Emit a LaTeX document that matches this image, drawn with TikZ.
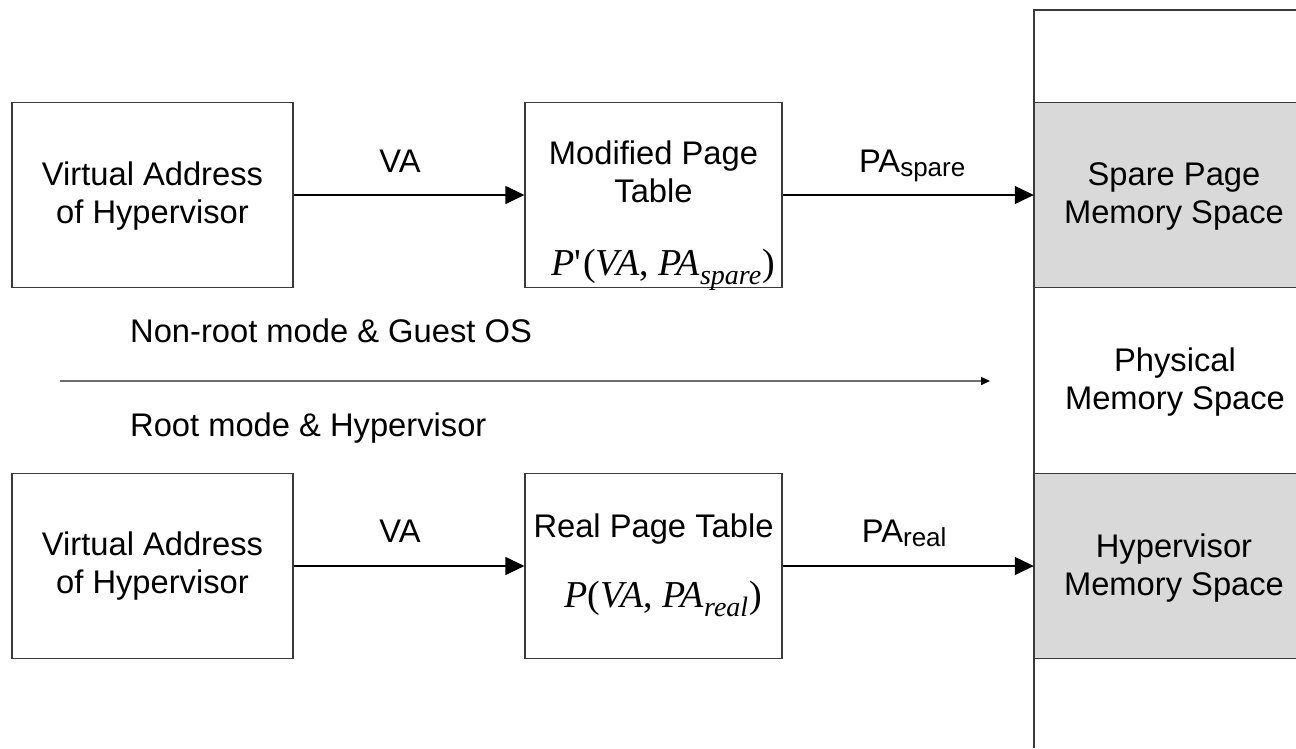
\documentclass[tikz,border=0pt]{standalone}
\usepackage{fontspec}
\setmainfont{Liberation Sans}
\newfontfamily\tms{Liberation Serif}
\usetikzlibrary{arrows.meta}
\definecolor{boxline}{HTML}{3A3A3A}
\definecolor{shade}{HTML}{D9D9D9}
\definecolor{axis}{HTML}{6E6E6E}
\newcommand{\lbl}{\fontsize{32.7}{38}\selectfont}
\newcommand{\frm}{\tms\fontsize{38}{40}\selectfont}
\newcommand{\sub}[1]{\raisebox{-0.26em}{\fontsize{28}{28}\selectfont\itshape #1}}
\newcommand{\lsub}[1]{\raisebox{-0.15em}{\fontsize{26}{26}\selectfont #1}}
\begin{document}
\begin{tikzpicture}[x=1pt,y=-1pt,
  blk/.style={draw=boxline,line width=1.2pt,minimum width=281pt,minimum height=185pt,inner sep=0pt},
  tbl/.style={draw=boxline,line width=1.2pt,minimum width=257pt,minimum height=185pt,inner sep=0pt},
  mem/.style={fill=shade,minimum width=262pt,minimum height=185pt,inner sep=0pt},
  txt/.style={inner sep=0pt,align=center,font=\lbl},
  arrlbl/.style={inner sep=0pt,anchor=base,font=\lbl},
  flow/.style={line width=1.2pt,-{Triangle[length=19pt,width=18pt]}},
  modeline/.style={draw=axis,line width=1.5pt,-{Triangle[length=9pt,width=8pt,fill=black,color=black]}}]
\useasboundingbox (0,0) rectangle (1296,748);

% physical memory column
\node[mem] (spare) at (1165,195) {};
\node[mem] (hyp) at (1165,566) {};
\node[txt] (sparetxt) at (1174,196) {Spare Page\\Memory Space};
\node[txt] (hyptxt) at (1174,568) {Hypervisor\\Memory Space};
\draw[boxline,line width=1.2pt] (1296,10) -- (1034,10) -- (1034,748);
\draw[boxline,line width=1.2pt] (spare.north east) -- (spare.north west) (spare.south west) -- (spare.south east);
\draw[boxline,line width=1.2pt] (hyp.north east) -- (hyp.north west) (hyp.south west) -- (hyp.south east);
\node[txt] (phys) at (1175,382) {Physical\\Memory Space};

% guest side
\node[blk] (va1) at (152.5,195) {};
\node[txt] (va1txt) at (152.5,196) {Virtual Address\\of Hypervisor};
\node[tbl] (mpt) at (653.5,195) {};
\node[txt] (mptname) at (653.5,172) {Modified Page\\Table};
\node[txt,font=\frm,anchor=base] (mptf) at (663,275) {\itshape P\upshape'\kern2pt(\itshape VA\upshape, \itshape PA\upshape\sub{spare}\kern1pt)};
\draw[flow] (va1.east) -- (mpt.west) node[midway,arrlbl,yshift=23pt,xshift=-9pt] (va1l) {VA};
\draw[flow] (mpt.east) -- (spare.west) node[midway,arrlbl,yshift=23pt,xshift=4pt] (pasl) {PA\lsub{spare}};

% mode boundary
\coordinate (ml0) at (60,381);
\coordinate (ml1) at (990,381);
\draw[modeline] (ml0) -- (ml1);
\node[txt,anchor=west] (guest) at (130,331) {Non-root mode \& Guest OS};
\node[txt,anchor=west] (root) at (130,428) {Root mode \& Hypervisor};

% hypervisor side
\node[blk] (va2) at (152.5,566) {};
\node[txt] (va2txt) at (152.5,566) {Virtual Address\\of Hypervisor};
\node[tbl] (rpt) at (653.5,566) {};
\node[txt] (rptname) at (653.5,529) {Real Page Table};
\node[txt,font=\frm,anchor=base] (rptf) at (663,607) {\itshape P\upshape(\itshape VA\upshape, \itshape PA\upshape\sub{real}\kern1pt)};
\draw[flow] (va2.east) -- (rpt.west) node[midway,arrlbl,yshift=24pt,xshift=-9pt] (va2l) {VA};
\draw[flow] (rpt.east) -- (hyp.west) node[midway,arrlbl,yshift=24pt,xshift=-4pt] (parl) {PA\lsub{real}};
\end{tikzpicture}
\end{document}
